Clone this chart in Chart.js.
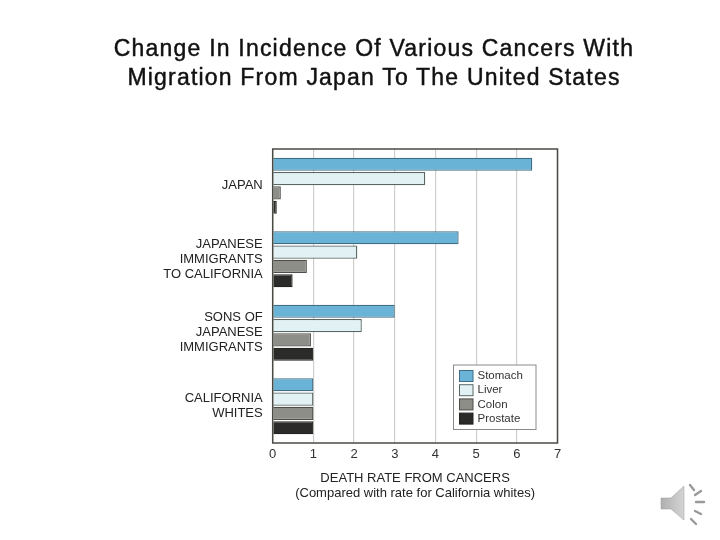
<!DOCTYPE html>
<html>
<head>
<meta charset="utf-8">
<script src="https://cdn.jsdelivr.net/npm/chart.js@4"></script>
<style>
  html, body { margin: 0; padding: 0; background: #fff; width: 720px; height: 540px; overflow: hidden; }
  #title { position: absolute; left: 14px; top: 34px; width: 720px; text-align: center; margin: 0;
           font: 400 23px/29px "Liberation Sans", Arial, sans-serif; color: #111; letter-spacing: 1.2px;
           -webkit-text-stroke: .45px #111; }
  #chart { position: absolute; left: 0; top: 0; }
  #speaker { position: absolute; left: 658px; top: 478px; filter: blur(.7px); }
</style>
</head>
<body>
<canvas id="chart" width="720" height="540"></canvas>
<h1 id="title">Change In Incidence Of Various Cancers With<br>Migration From Japan To The United States</h1>
<svg id="speaker" width="52" height="50" viewBox="0 0 52 50">
  <defs><linearGradient id="sp" x1="0" x2="1"><stop offset="0" stop-color="#b0b0b0"/><stop offset="1" stop-color="#d4d4d4"/></linearGradient></defs>
  <path d="M3 20 H13 L26 8 V42 L13 31 H3 Z" fill="url(#sp)" stroke="#999" stroke-width=".5"/>
  <g stroke="#9a9a9a" stroke-width="2.4" stroke-linecap="round">
    <line x1="32" y1="7" x2="36" y2="12"/>
    <line x1="37" y1="17" x2="43" y2="13"/>
    <line x1="38" y1="24" x2="46" y2="24"/>
    <line x1="37" y1="33" x2="43" y2="36"/>
    <line x1="33" y1="41" x2="38" y2="46"/>
  </g>
</svg>
<script>
const categories = ["JAPAN", ["JAPANESE", "IMMIGRANTS", "TO CALIFORNIA"], ["SONS OF", "JAPANESE", "IMMIGRANTS"], ["CALIFORNIA", "WHITES"]];
const stomach = [6.38, 4.57, 3.0, 1.0];
const liver = [3.75, 2.08, 2.19, 1.0];
const colon = [0.2, 0.84, 0.94, 1.0];
const prostate = [0.1, 0.49, 1.0, 1.0];
const seriesNames = ["Stomach", "Liver", "Colon", "Prostate"];
const fills = ["#69b4d6", "#e2f2f4", "#8e8e89", "#2b2b29"];
const edges = ["#3f6d86", "#5a6666", "#4c4c48", "#222220"];
const xTitle = ["DEATH RATE FROM CANCERS", "(Compared with rate for California whites)"];
const FONT = '"Liberation Sans", Arial, sans-serif';

// dark frame round the plot, light grid stays underneath
const frame = {
  id: "frame",
  afterDatasetsDraw(chart) {
    const { ctx, chartArea: a } = chart;
    ctx.save();
    ctx.strokeStyle = "#4a4a44";
    ctx.lineWidth = 1.5;
    ctx.strokeRect(a.left, a.top, a.right - a.left, a.bottom - a.top);
    ctx.restore();
  },
};

// legend box sits inside the plot, lower right
const boxLegend = {
  id: "boxLegend",
  afterDraw(chart) {
    const { ctx } = chart;
    ctx.save();
    ctx.fillStyle = "#fff";
    ctx.strokeStyle = "#8a8a86";
    ctx.lineWidth = 1;
    ctx.fillRect(453.5, 365, 82.5, 64.5);
    ctx.strokeRect(453.5, 365, 82.5, 64.5);
    ctx.font = "11.5px " + FONT;
    ctx.textBaseline = "middle";
    chart.data.datasets.forEach((d, i) => {
      const y = 376 + i * 14.2;
      ctx.fillStyle = d.backgroundColor;
      ctx.strokeStyle = d.borderColor;
      ctx.fillRect(459.5, y - 5.5, 13.5, 11);
      ctx.strokeRect(459.5, y - 5.5, 13.5, 11);
      ctx.fillStyle = "#333";
      ctx.fillText(d.label, 477.5, y);
    });
    ctx.restore();
  },
};

new Chart(document.getElementById("chart"), {
  type: "bar",
  data: {
    labels: categories,
    datasets: [stomach, liver, colon, prostate].map((data, i) => ({
      label: seriesNames[i], data,
      backgroundColor: fills[i], borderColor: edges[i], borderWidth: 1.3,
      categoryPercentage: 0.78, barPercentage: 0.92,
    })),
  },
  options: {
    indexAxis: "y",
    responsive: false,
    animation: false,
    layout: { padding: { top: 149, right: 162.5, left: 0, bottom: 0 } },
    plugins: { legend: { display: false }, title: { display: false }, tooltip: { enabled: false } },
    scales: {
      x: {
        min: 0, max: 7,
        ticks: { stepSize: 1, color: "#333", padding: 3.5, font: { family: FONT, size: 13 }, maxRotation: 0 },
        grid: { color: "#cfcfcc", lineWidth: 1.2, drawTicks: false },
        border: { display: false },
        title: { display: true, text: xTitle, color: "#222", font: { family: FONT, size: 13, lineHeight: 1.15 }, padding: { top: 0, bottom: 39 } },
        afterFit(s) { s.height = 97; },
      },
      y: {
        ticks: { color: "#222", padding: 10, autoSkip: false, font: { family: FONT, size: 13, lineHeight: 1.15 } },
        grid: { display: false, drawTicks: false },
        border: { display: false },
        afterFit(s) { s.width = 272.7; },
      },
    },
  },
  plugins: [frame, boxLegend],
});
</script>
</body>
</html>
